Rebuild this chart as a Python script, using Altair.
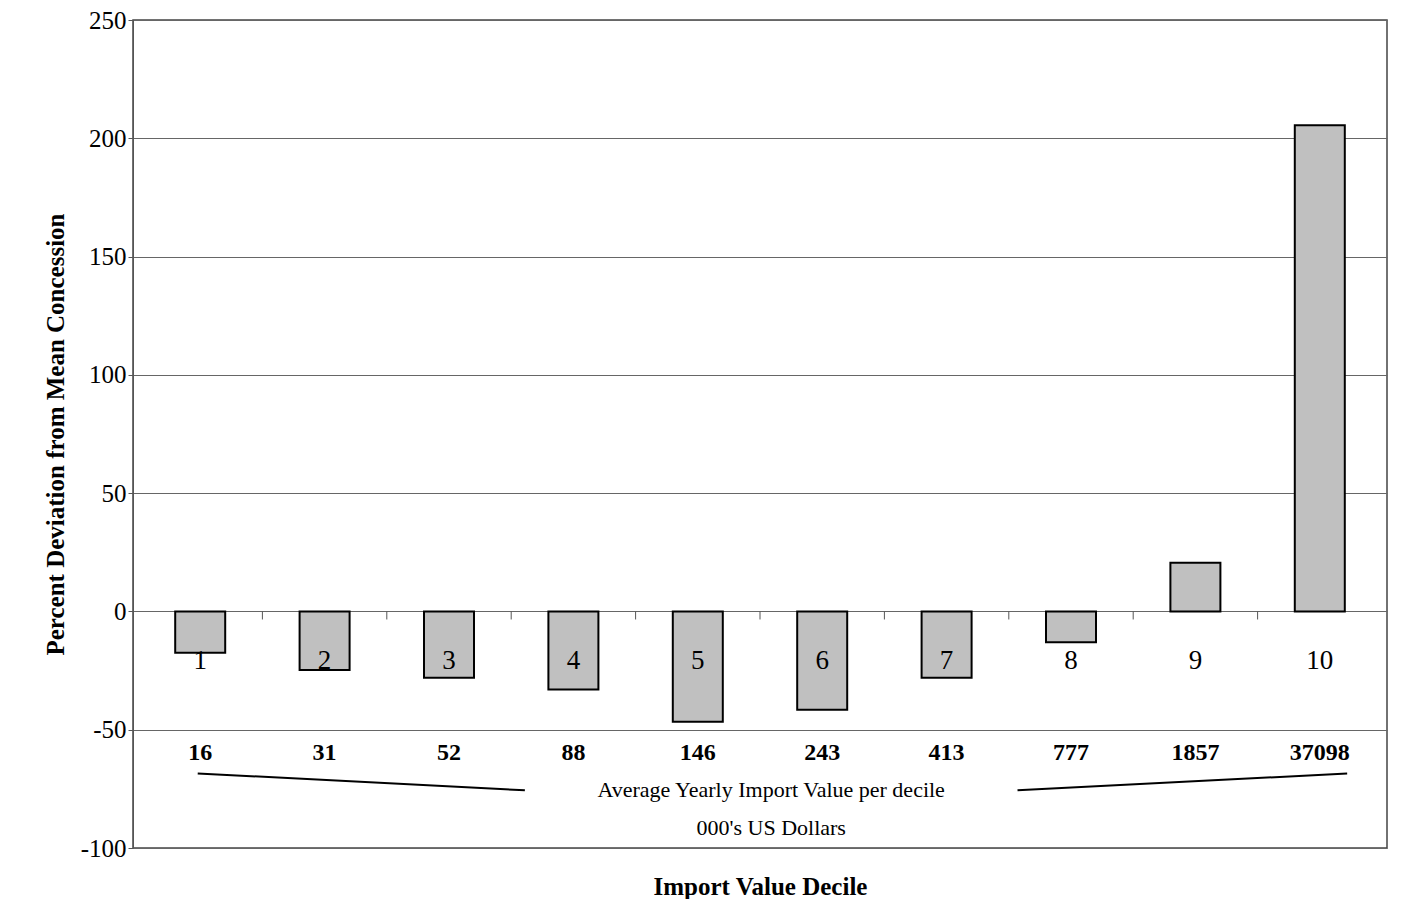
import altair as alt
import pandas as pd

deciles = [1, 2, 3, 4, 5, 6, 7, 8, 9, 10]
deviation = [-17.5, -24.8, -28, -33, -46.6, -41.6, -28, -13, 20.6, 205.5]
import_value = ["16", "31", "52", "88", "146", "243", "413", "777", "1857", "37098"]

df = pd.DataFrame({"decile": deciles, "dev": deviation, "imp": import_value})
font = "Liberation Serif"

xs = alt.Scale(domain=[0.5, 10.5], nice=False, zero=False)
ys = alt.Scale(domain=[-100, 250], nice=False)

base = alt.Chart(df)
bars = base.mark_bar(color="#c0c0c0", stroke="black", strokeWidth=2, size=50).encode(
    x=alt.X("decile:Q", scale=xs, title="Import Value Decile",
            axis=alt.Axis(labels=False, ticks=False, domain=False, grid=False,
                          titleFont=font, titleFontSize=25, titleFontWeight="bold",
                          titleColor="black", titlePadding=26)),
    y=alt.Y("dev:Q", scale=ys, title="Percent Deviation from Mean Concession",
            axis=alt.Axis(values=[-100, -50, 0, 50, 100, 150, 200, 250],
                          labelExpr="replace(datum.label, '\u2212', '-')",
                          gridColor="#666", gridOpacity=1, tickColor="#555",
                          domainColor="#555", labelFont=font, labelFontSize=25,
                          labelColor="black", titleFont=font, titleFontSize=25,
                          titleFontWeight="bold", titleColor="black", titlePadding=12)),
)

tick_df = pd.DataFrame({"x": [1.5, 2.5, 3.5, 4.5, 5.5, 6.5, 7.5, 8.5, 9.5]})
ticks = alt.Chart(tick_df).mark_rule(color="#555").encode(
    x=alt.X("x:Q", scale=xs), y=alt.datum(0), y2=alt.datum(-3.4))

nums = base.mark_text(font=font, fontSize=27, baseline="middle").encode(
    x=alt.X("decile:Q", scale=xs), y=alt.datum(-21), text="decile:N")
vals = base.mark_text(font=font, fontSize=24, fontWeight="bold", baseline="middle").encode(
    x=alt.X("decile:Q", scale=xs), y=alt.datum(-60), text="imp:N")

line_df = pd.DataFrame({"x": [0.98, 3.61, 7.57, 10.22], "y": [-68.5, -75.6, -75.6, -68.5],
                        "g": ["a", "a", "b", "b"]})
lines = alt.Chart(line_df).mark_line(color="black", strokeWidth=2).encode(
    x=alt.X("x:Q", scale=xs), y=alt.Y("y:Q", scale=ys), detail="g:N")

note_df = pd.DataFrame({"x": [5.59, 5.59], "y": [-75.5, -91.5],
                        "t": ["Average Yearly Import  Value per decile", "000's US Dollars"]})
notes = alt.Chart(note_df).mark_text(font=font, fontSize=22, baseline="middle").encode(
    x=alt.X("x:Q", scale=xs), y=alt.Y("y:Q", scale=ys), text="t:N")

chart = alt.layer(bars, ticks, nums, vals, lines, notes).properties(
    width=1254, height=828, padding={"left": 35, "top": 0, "right": 10, "bottom": 0}
).configure_view(stroke="#444", strokeWidth=1.5)

chart.save("out.html", embed_options={"renderer": "svg", "actions": False})
